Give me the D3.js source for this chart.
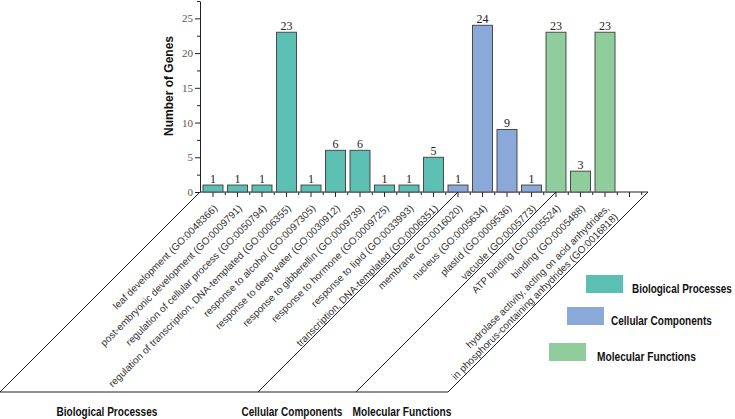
<!DOCTYPE html>
<html>
<head>
<meta charset="utf-8">
<script src="https://cdn.jsdelivr.net/npm/d3@7"></script>
<style>
  html, body { margin: 0; padding: 0; background: #fff; }
  svg { display: block; }
</style>
</head>
<body>
<script>
// ---------------- data ----------------
const categories = [
  "leaf development (GO:0048366)",
  "post-embryonic development (GO:0009791)",
  "regulation of cellular process (GO:0050794)",
  "regulation of transcription, DNA-templated (GO:0006355)",
  "response to alcohol (GO:0097305)",
  "response to deep water (GO:0030912)",
  "response to gibberellin (GO:0009739)",
  "response to hormone (GO:0009725)",
  "response to lipid (GO:0033993)",
  "transcription, DNA-templated (GO:0006351)",
  "membrane (GO:0016020)",
  "nucleus (GO:0005634)",
  "plastid (GO:0009536)",
  "vacuole (GO:0005773)",
  "ATP binding (GO:0005524)",
  "binding (GO:0005488)",
  "hydrolase activity, acting on acid anhydrides,\nin phosphorus-containing anhydrides (GO:0016818)"
];
const values = [1, 1, 1, 23, 1, 6, 6, 1, 1, 5, 1, 24, 9, 1, 23, 3, 23];
const groupOf = [
  "Biological Processes","Biological Processes","Biological Processes","Biological Processes",
  "Biological Processes","Biological Processes","Biological Processes","Biological Processes",
  "Biological Processes","Biological Processes",
  "Cellular Components","Cellular Components","Cellular Components","Cellular Components",
  "Molecular Functions","Molecular Functions","Molecular Functions"
];
const groupNames = ["Biological Processes", "Cellular Components", "Molecular Functions"];
const yTicks = [0, 5, 10, 15, 20, 25];
const yMinorTicks = [2.5, 7.5, 12.5, 17.5, 22.5, 27.5];
const yTitle = "Number of Genes";

// ---------------- layout ----------------
const W = 735, H = 419;
const y0 = 192, yBottom = 392;
const xStart = 200.75, step = 24.5;
const axisX = 200, axisEnd = 648;

const svg = d3.select("body").append("svg").attr("width", W).attr("height", H);

const x = d3.scaleBand()
  .domain(categories)
  .range([xStart, xStart + step * categories.length])
  .paddingInner(0.184)
  .paddingOuter(0.092);
const y = d3.scaleLinear().domain([0, 27.5]).range([y0, 1]);
const color = d3.scaleOrdinal().domain(groupNames).range(["#5bbfb4", "#8aa8d8", "#8fce9c"]);

const serif = "'Liberation Serif', 'Times New Roman', serif";
const sans = "'Liberation Sans', Arial, sans-serif";

// ---------------- y axis ----------------
const yAxisG = svg.append("g").attr("transform", `translate(${axisX},0)`)
  .call(d3.axisLeft(y).tickValues(yTicks).tickSize(5).tickSizeOuter(0).tickPadding(2));
yAxisG.select(".domain").attr("stroke", "#222");
yAxisG.selectAll(".tick line").attr("stroke", "#222");
yAxisG.selectAll(".tick text").attr("font-family", serif).attr("font-size", 11).attr("fill", "#555");
const yMinorG = svg.append("g").attr("transform", `translate(${axisX},0)`)
  .call(d3.axisLeft(y).tickValues(yMinorTicks).tickSize(3).tickFormat(""));
yMinorG.select(".domain").remove();
yMinorG.selectAll(".tick line").attr("stroke", "#222");

svg.append("text")
  .attr("transform", `translate(173,86) rotate(-90)`)
  .attr("text-anchor", "middle")
  .attr("font-family", sans).attr("font-weight", "bold").attr("font-size", 12)
  .attr("fill", "#111")
  .text(yTitle);

// ---------------- x axis ----------------
const centers = categories.map(c => x(c) + x.bandwidth() / 2);
const extraCenter = x.range()[1] + step / 2;
svg.append("line").attr("x1", axisX).attr("x2", axisEnd).attr("y1", y0).attr("y2", y0)
  .attr("stroke", "#222");
svg.append("g").selectAll("line.major").data(centers.concat([extraCenter])).join("line")
  .attr("x1", d => d).attr("x2", d => d).attr("y1", y0).attr("y2", y0 + 5).attr("stroke", "#222");
const bounds = d3.range(categories.length + 2).map(i => x.range()[0] + i * step).slice(1);
svg.append("g").selectAll("line.minor").data(bounds).join("line")
  .attr("x1", d => d).attr("x2", d => d).attr("y1", y0).attr("y2", y0 + 3).attr("stroke", "#222");

// ---------------- bars ----------------
svg.append("g").selectAll("rect").data(categories).join("rect")
  .attr("x", d => x(d))
  .attr("width", x.bandwidth())
  .attr("y", (d, i) => y(values[i]))
  .attr("height", (d, i) => y(0) - y(values[i]))
  .attr("fill", (d, i) => color(groupOf[i]))
  .attr("stroke", "#4a4a4a").attr("stroke-width", 1);

svg.append("g").selectAll("text").data(categories).join("text")
  .attr("x", d => x(d) + x.bandwidth() / 2)
  .attr("y", (d, i) => y(values[i]) - 2)
  .attr("text-anchor", "middle")
  .attr("font-family", serif).attr("font-size", 12).attr("fill", "#222")
  .text((d, i) => values[i]);

// ---------------- rotated category labels ----------------
const lab = svg.append("g").selectAll("text").data(categories).join("text")
  .attr("transform", d => `translate(${x(d) + x.bandwidth() / 2 + 5},${y0 + 17}) rotate(-45)`)
  .attr("text-anchor", "end")
  .attr("font-family", sans).attr("font-size", 10).attr("fill", "#333");
lab.each(function (d) {
  const lines = d.split("\n");
  const t = d3.select(this);
  lines.forEach((ln, k) => {
    t.append("tspan").attr("x", 0).attr("y", k * 12).text(ln);
  });
});

// ---------------- skewed group frame ----------------
const firstIdx = groupNames.map(g => groupOf.indexOf(g));
const starts = [axisX]
  .concat(firstIdx.slice(1).map(i => centers[i]))
  .concat([axisEnd]);
const drop = yBottom - y0;
svg.append("g").selectAll("line").data(starts).join("line")
  .attr("x1", d => d).attr("y1", y0).attr("x2", d => d - drop).attr("y2", yBottom)
  .attr("stroke", "#222").attr("stroke-width", 1);
svg.append("line").attr("x1", axisX - drop).attr("x2", axisEnd - drop)
  .attr("y1", yBottom).attr("y2", yBottom).attr("stroke", "#222");

// Condensed bold label: Liberation Sans bold scaled horizontally to a target width
function condensedText(parent, txt, left, baseline, targetW) {
  const g = parent.append("g").attr("transform", `translate(${left},${baseline})`);
  const t = g.append("text")
    .attr("font-family", sans).attr("font-weight", "bold").attr("font-size", 12)
    .attr("fill", "#111").text(txt);
  const w = t.node().getComputedTextLength();
  t.attr("transform", `scale(${targetW / w},1)`);
  return g;
}

// ---------------- group labels ----------------
const groupLabelX = [107, 292, 402];
const groupLabelW = [101, 101, 99];
const gG = svg.append("g");
groupNames.forEach((d, i) =>
  condensedText(gG, d, groupLabelX[i] - groupLabelW[i] / 2, 416, groupLabelW[i]));

// ---------------- legend ----------------
const legX = [586, 567, 549], legY = [275, 307, 343], legTX = [632, 611, 597];
const legW = [100, 101, 99];
const leg = svg.append("g");
leg.selectAll("rect").data(groupNames).join("rect")
  .attr("x", (d, i) => legX[i]).attr("y", (d, i) => legY[i])
  .attr("width", 37).attr("height", 18)
  .attr("fill", d => color(d));
groupNames.forEach((d, i) =>
  condensedText(leg, d, legTX[i], legY[i] + 18, legW[i]));
</script>
</body>
</html>
